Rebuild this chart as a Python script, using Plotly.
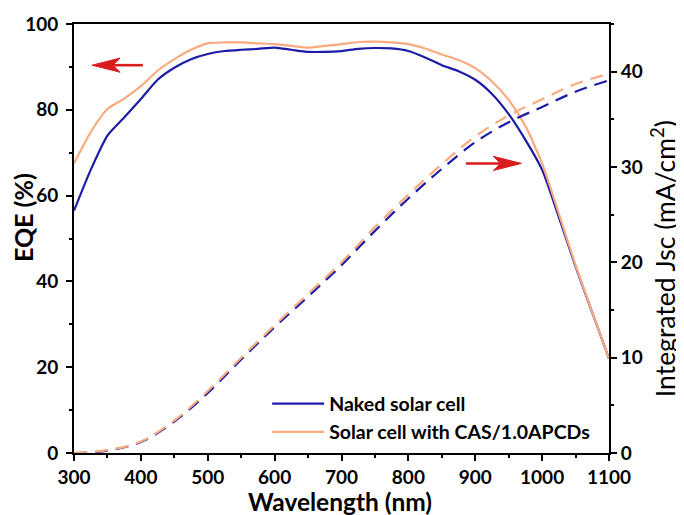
import plotly.graph_objects as go

wavelength = [300, 325, 350, 375, 400, 425, 450, 475, 500, 525, 550, 575, 600, 625, 650,
              675, 700, 725, 750, 775, 800, 825, 850, 875, 900, 925, 950, 975, 1000,
              1025, 1050, 1075, 1100]
eqe_naked = [56.5, 66.0, 74.0, 78.2, 82.5, 87.0, 89.8, 91.8, 93.0, 93.7, 94.0, 94.2, 94.5,
             94.0, 93.5, 93.5, 93.7, 94.2, 94.4, 94.3, 93.7, 92.2, 90.4, 89.0, 87.0, 83.7,
             79.0, 73.0, 66.0, 55.0, 43.5, 32.7, 22.0]
eqe_cas = [67.5, 74.8, 80.2, 82.6, 85.5, 89.1, 91.8, 94.0, 95.5, 95.7, 95.7, 95.5, 95.3,
           94.9, 94.5, 94.9, 95.3, 95.8, 95.9, 95.7, 95.3, 94.3, 92.9, 91.6, 89.7, 86.6,
           82.3, 76.2, 67.5, 55.8, 43.8, 32.8, 22.0]

jsc_wl = [300, 350, 400, 450, 500, 550, 600, 650, 700, 750, 800, 850, 900, 950, 1000, 1050, 1100]
jsc_cas = [0.0, 0.3, 1.2, 3.4, 6.5, 10.0, 13.4, 16.7, 20.0, 23.7, 27.1, 30.3, 33.2, 35.4, 37.1, 38.7, 39.8]
jsc_naked = [0.0, 0.25, 1.15, 3.3, 6.3, 9.8, 13.2, 16.4, 19.7, 23.3, 26.7, 29.8, 32.6, 34.7, 36.3, 37.9, 39.1]

x_ticks = [300, 400, 500, 600, 700, 800, 900, 1000, 1100]
y_ticks = [0, 20, 40, 60, 80, 100]
y2_ticks = [0, 10, 20, 30, 40]

# indicator arrows (tail, notch, back, tip wavelength; EQE level; half head height)
arrow_left = dict(tail=403, notch=358, back=369, tip=327, level=90.4, half=1.65)
arrow_right = dict(tail=886, notch=938, back=927, tip=969, level=67.5, half=1.65)

BLUE = "#1c1ca6"
ORANGE = "#f9ab7f"
RED = "#d91c1c"
FONT = "Lato"

fig = go.Figure()
fig.add_trace(go.Scatter(x=wavelength, y=eqe_naked, mode="lines", name="Naked solar cell",
                         line=dict(color=BLUE, width=2.2, shape="spline", smoothing=0.6)))
fig.add_trace(go.Scatter(x=wavelength, y=eqe_cas, mode="lines", name="Solar cell with CAS/1.0APCDs",
                         line=dict(color=ORANGE, width=2.2, shape="spline", smoothing=0.6)))
fig.add_trace(go.Scatter(x=jsc_wl, y=jsc_naked, mode="lines", showlegend=False, yaxis="y2",
                         line=dict(color=BLUE, width=2.2, dash="13px,8px", shape="spline")))
fig.add_trace(go.Scatter(x=jsc_wl, y=jsc_cas, mode="lines", showlegend=False, yaxis="y2",
                         line=dict(color=ORANGE, width=2.2, dash="13px,8px", shape="spline")))

axis_common = dict(showline=True, linecolor="black", linewidth=2, ticks="outside",
                   ticklen=6, tickwidth=2, tickcolor="black", showgrid=False, zeroline=False,
                   automargin=False,
                   tickfont=dict(family=FONT, size=19, color="black", weight="bold"))

fig.update_layout(
    width=676, height=507,
    margin=dict(l=66, r=75, t=16, b=62),
    paper_bgcolor="white", plot_bgcolor="white",
    showlegend=True,
    legend=dict(x=0.361, y=0.16, xanchor="left", yanchor="top", bgcolor="rgba(0,0,0,0)",
                font=dict(family=FONT, size=19.5, color="black", weight="bold"),
                itemwidth=52, tracegroupgap=0),
    xaxis=dict(range=[300, 1100], tickvals=x_ticks, mirror=True, ticklabelstandoff=0,
               minor=dict(dtick=50, ticks="outside", ticklen=3, tickwidth=2, tickcolor="black"),
               **axis_common),
    yaxis=dict(range=[0, 100], tickvals=y_ticks, ticklabelstandoff=4,
               minor=dict(dtick=10, ticks="outside", ticklen=3, tickwidth=2, tickcolor="black"),
               **axis_common),
    yaxis2=dict(range=[0, 45], tickvals=y2_ticks, overlaying="y", side="right",
                minor=dict(dtick=5, ticks="outside", ticklen=3, tickwidth=2, tickcolor="black"),
                **axis_common),
)

# axis titles
fig.add_annotation(text="Wavelength (nm)", xref="paper", yref="paper", x=0.497, y=-0.113,
                   xanchor="center", yanchor="middle", showarrow=False,
                   font=dict(family=FONT, size=24.5, color="black", weight="bold"))
fig.add_annotation(text="EQE (%)", xref="paper", yref="paper", x=-0.095, y=0.548, textangle=-90,
                   xanchor="center", yanchor="middle", showarrow=False,
                   font=dict(family=FONT, size=25, color="black", weight="bold"))
fig.add_annotation(text="Integrated Jsc (mA/cm<sup>2</sup>)", xref="paper", yref="paper",
                   x=1.101, y=0.452, textangle=-90, xanchor="center", yanchor="middle",
                   showarrow=False, font=dict(family=FONT, size=26.5, color="black"))

# red arrows
for a in (arrow_left, arrow_right):
    fig.add_shape(type="line", xref="x", yref="y", x0=a["tail"], x1=a["notch"],
                  y0=a["level"], y1=a["level"], line=dict(color=RED, width=2.6))
    path = (f"M {a['tip']},{a['level']} L {a['back']},{a['level'] + a['half']} "
            f"L {a['notch']},{a['level']} L {a['back']},{a['level'] - a['half']} Z")
    fig.add_shape(type="path", xref="x", yref="y", path=path,
                  fillcolor=RED, line=dict(color=RED, width=1))

fig.write_html("out.html")
